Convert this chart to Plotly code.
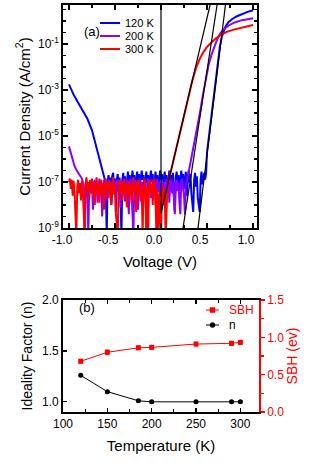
import numpy as np
import plotly.graph_objects as go

# ---------------- Panel (a): J-V curves (log10 of current density, A/cm^2) ----------------
STEP = 0.01  # voltage step of the sweep (V)

# 120 K (blue)
blue_rev_v = [-1.00, -0.95, -0.90, -0.85, -0.80, -0.75, -0.72, -0.69, -0.66, -0.64, -0.62]
blue_rev_logj = [-2.75, -3.2, -3.55, -3.9, -4.25, -4.75, -5.2, -5.65, -6.05, -6.4, -6.7]
blue_noise_v0 = -0.61
blue_noise_logj = [
    -6.9, -7.1, -9.3, -6.95, -6.7, -7.3, -6.8, -7.9, -6.75, -6.6,
    -7.2, -6.85, -8.3, -6.9, -6.65, -7.4, -6.8, -7.7, -9.3, -6.9,
    -6.6, -7.1, -6.75, -7.8, -6.85, -6.55, -7.0, -6.7, -7.3, -6.8,
    -6.5, -6.95, -6.7, -7.4, -6.75, -6.55, -7.0, -6.65, -7.2, -6.8,
    -6.5, -6.9, -6.7, -7.5, -6.75, -6.55, -7.05, -6.7, -7.3, -6.8,
    -6.5, -7.0, -6.65, -7.6, -6.8, -6.55, -7.1, -6.7, -7.4, -6.75,
    -6.5, -6.9, -6.65, -7.3, -6.8, -6.55, -7.0, -6.7, -7.5, -6.75,
    -6.5, -6.95, -6.7, -7.2, -6.6, -7.6, -8.3, -6.8, -6.55, -7.0,
    -6.7, -7.4, -6.75, -6.5, -6.9, -6.65, -7.3, -6.8, -6.55, -7.6,
    -6.7, -6.5, -7.0, -6.65, -7.5, -7.9, -8.3, -6.9, -6.6, -7.2,
    -6.75, -7.7, -8.0, -8.3, -6.9, -6.55, -7.1, -6.7, -6.6, -6.9,
    -6.6,
]
blue_fwd_v = [0.50, 0.52, 0.54, 0.56, 0.58, 0.60, 0.62, 0.64, 0.66, 0.68, 0.70, 0.73, 0.77, 0.82, 0.88, 0.94, 1.00]
blue_fwd_logj = [-5.7, -5.02, -4.35, -3.67, -3.0, -2.33, -1.65, -1.1, -0.7, -0.42, -0.24, -0.06, 0.08, 0.2, 0.31, 0.4, 0.47]

# 200 K (violet)
purple_rev_v = [-1.00, -0.98, -0.96, -0.94, -0.92, -0.90, -0.88, -0.86]
purple_rev_logj = [-5.45, -5.75, -6.1, -6.3, -6.47, -6.6, -6.72, -6.85]
purple_noise_v0 = -0.85
purple_noise_logj = [
    -7.0, -7.3, -9.3, -7.1, -6.9, -7.6, -9.3, -7.2, -6.95, -7.5,
    -7.1, -8.2, -7.05, -6.9, -7.4, -7.0, -7.9, -7.15, -6.85, -7.35,
    -7.0, -8.5, -7.2, -6.9, -7.45, -7.05, -7.8, -7.1, -6.9, -7.5,
    -7.0, -8.0, -7.15, -6.85, -7.4, -7.05, -7.7, -7.0, -6.9, -7.3,
    -7.05, -8.1, -7.2, -6.95, -7.5, -7.0, -7.85, -7.1, -6.9, -7.4,
    -8.4, -7.05, -6.85, -7.5, -8.6, -9.3, -7.1, -6.9, -7.45, -7.0,
    -8.2, -7.1, -6.85, -7.35, -7.0, -7.9, -7.05, -6.9, -7.5, -8.3,
    -7.1, -6.85, -7.4, -7.0, -7.7, -7.05, -6.9, -7.35, -7.0, -8.0,
    -7.1, -6.85, -7.45, -7.0, -7.6, -7.05, -6.9, -7.3, -7.0, -7.8,
    -7.1, -6.85, -7.4, -7.0, -7.9, -7.05, -6.9, -7.5, -7.0, -7.8,
    -8.4, -7.1, -6.9, -7.4, -7.05, -7.9, -8.4, -7.0, -6.85, -7.3,
    -7.6, -8.4, -7.1,
]
purple_fwd_v = [0.28, 0.30, 0.32, 0.35, 0.38, 0.42, 0.46, 0.49, 0.52, 0.55, 0.58, 0.61, 0.64, 0.68, 0.74, 0.80, 0.88, 1.00]
purple_fwd_logj = [-7.0, -6.6, -6.15, -5.55, -4.9, -4.05, -3.1, -2.4, -1.85, -1.45, -1.1, -0.8, -0.55, -0.36, -0.18, -0.06, 0.04, 0.12]

# 300 K (red)
red_noise_v0 = -1.00
red_noise_logj = [
    -7.0, -6.85, -7.3, -6.9, -7.6, -6.95, -7.4, -8.1, -9.3, -7.2,
    -6.9, -7.5, -7.05, -7.8, -6.95, -7.35, -8.3, -9.3, -7.1, -6.8,
    -7.4, -7.0, -7.7, -6.9, -7.25, -6.85, -7.6, -7.1, -8.0, -7.0,
    -6.8, -7.45, -7.0, -7.9, -7.15, -6.9, -7.5, -7.05, -8.2, -7.1,
    -6.85, -7.35, -7.0, -7.7, -6.95, -7.3, -8.0, -7.1, -6.8, -7.55,
    -7.05, -8.4, -9.3, -9.3, -7.2, -6.9, -7.45, -7.0, -7.8, -7.1,
    -6.85, -7.5, -7.05, -8.1, -7.2, -6.95, -7.6, -7.1, -7.9, -7.0,
    -6.8, -7.4, -7.05, -8.3, -7.15, -6.9, -7.5, -7.0, -7.85, -7.3,
    -9.3, -7.1, -6.85, -7.6, -9.3, -7.2, -9.3, -7.0, -6.9, -7.5,
    -7.1, -8.0, -7.0, -6.85, -7.7, -9.3, -7.3, -9.3, -7.5, -8.2,
    -9.3, -7.6, -7.2, -8.0, -7.4, -9.3,
]
red_fwd_v = [0.07, 0.10, 0.15, 0.20, 0.25, 0.30, 0.34, 0.38, 0.42, 0.46, 0.50, 0.55, 0.60, 0.66, 0.72, 0.80, 0.90, 1.00]
red_fwd_logj = [-7.2, -6.65, -5.8, -4.95, -4.1, -3.25, -2.6, -2.05, -1.65, -1.35, -1.12, -0.92, -0.74, -0.58, -0.46, -0.36, -0.27, -0.17]

# straight-line fits (black) and V = 0 marker line
fit_lines = {
    "fit300": ([0.0, 0.533], [-8.35, 0.7]),
    "fit200": ([0.239, 0.609], [-9.0, 0.7]),
    "fit120": ([0.402, 0.700], [-9.0, 0.7]),
    "zero": ([0.0, 0.0], [-8.35, 0.7]),
}

series_a = ["120 K", "200 K", "300 K"]

# ---------------- Panel (b): ideality factor and SBH vs temperature ----------------
temperature = [120, 150, 185, 200, 250, 290, 300]
ideality_n = [1.26, 1.10, 1.01, 1.00, 1.00, 1.00, 1.00]
ideality_err = [0.012, 0.01, 0.01, 0.01, 0.01, 0.01, 0.01]
sbh_ev = [0.68, 0.80, 0.86, 0.866, 0.91, 0.92, 0.933]
sbh_err = [0.025, 0.03, 0.025, 0.025, 0.025, 0.025, 0.025]
series_b = ["SBH", "n"]

xlabels_a = ["-1.0", "-0.5", "0.0", "0.5", "1.0"]
xticks_a = [-1.0, -0.5, 0.0, 0.5, 1.0]
ylabel_exp_a = [-9, -7, -5, -3, -1]

# ---------------- layout geometry (pixels) ----------------
W, H = 317, 467
ML, MR, MT, MB = 63, 58, 5, 55
PW, PH = W - ML - MR, H - MT - MB


def px(x):
    return (x - ML) / PW


def py(y):
    return (H - MB - y) / PH


def build(rev_v, rev_logj, v0, noise_logj, fwd_v, fwd_logj):
    noise_v = np.round(v0 + STEP * np.arange(len(noise_logj)), 2)
    v = np.concatenate([np.array(rev_v, float), noise_v, np.array(fwd_v, float)])
    lj = np.concatenate([np.array(rev_logj, float), np.array(noise_logj, float), np.array(fwd_logj, float)])
    return v, 10.0 ** lj


bv, bj = build(blue_rev_v, blue_rev_logj, blue_noise_v0, blue_noise_logj, blue_fwd_v, blue_fwd_logj)
pv, pj = build(purple_rev_v, purple_rev_logj, purple_noise_v0, purple_noise_logj, purple_fwd_v, purple_fwd_logj)
rv, rj = build([], [], red_noise_v0, red_noise_logj, red_fwd_v, red_fwd_logj)

FONT = "Liberation Sans, Arial, sans-serif"
BLUE, VIOLET, RED = "#0000FF", "#8B00FF", "#FF0000"
colors_a = [BLUE, VIOLET, RED]

fig = go.Figure()
for name, v, j, c in zip(series_a, [bv, pv, rv], [bj, pj, rj], colors_a):
    fig.add_trace(go.Scatter(x=v, y=j, mode="lines", name=name, line=dict(color=c, width=2),
                             xaxis="x", yaxis="y", showlegend=False))
for key, (fv, flj) in fit_lines.items():
    fig.add_trace(go.Scatter(x=fv, y=[10.0 ** e for e in flj], mode="lines", showlegend=False,
                             line=dict(color="black", width=1.2), xaxis="x", yaxis="y"))

fig.add_trace(go.Scatter(x=temperature, y=sbh_ev, mode="lines+markers", name=series_b[0],
                         line=dict(color=RED, width=1), marker=dict(symbol="square", size=5, color=RED),
                         error_y=dict(type="data", array=sbh_err, color=RED, thickness=0.8, width=2),
                         xaxis="x2", yaxis="y3", showlegend=False))
fig.add_trace(go.Scatter(x=temperature, y=ideality_n, mode="lines+markers", name=series_b[1],
                         line=dict(color="black", width=1), marker=dict(symbol="circle", size=5, color="black"),
                         error_y=dict(type="data", array=ideality_err, color="black", thickness=0.8, width=2),
                         xaxis="x2", yaxis="y2", showlegend=False))

# ---------------- legends drawn as shapes + text ----------------
shapes, annotations = [], []
leg_rows_a = [23, 36, 49]
for name, c, yy in zip(series_a, colors_a, leg_rows_a):
    shapes.append(dict(type="line", xref="paper", yref="paper", x0=px(100), x1=px(120), y0=py(yy), y1=py(yy),
                       line=dict(color=c, width=2)))
    annotations.append(dict(text=name, x=px(123), y=py(yy), xref="paper", yref="paper", xanchor="left",
                            yanchor="middle", showarrow=False, height=12,
                            font=dict(size=11, family=FONT, color="black")))

leg_rows_b = [310, 325]
leg_cols_b = [RED, "black"]
for i, (name, c, yy) in enumerate(zip(series_b, leg_cols_b, leg_rows_b)):
    shapes.append(dict(type="line", xref="paper", yref="paper", x0=px(206), x1=px(219), y0=py(yy), y1=py(yy),
                       line=dict(color=c, width=1)))
    shapes.append(dict(type="rect" if i == 0 else "circle", xref="paper", yref="paper",
                       x0=px(210), x1=px(215), y0=py(yy + 2.5), y1=py(yy - 2.5),
                       fillcolor=c, line=dict(color=c, width=0.5)))
    annotations.append(dict(text=name, x=px(227), y=py(yy), xref="paper", yref="paper", xanchor="left",
                            yanchor="middle", showarrow=False, height=12,
                            font=dict(size=12, family=FONT, color=c)))

annotations.append(dict(text="(a)", x=px(82), y=py(22), xref="paper", yref="paper", showarrow=False,
                        font=dict(size=13, family=FONT)))
annotations.append(dict(text="(b)", x=px(77), y=py(317), xref="paper", yref="paper", showarrow=False,
                        font=dict(size=13, family=FONT)))

axis_common = dict(showline=True, linecolor="black", linewidth=1.8, showgrid=False, zeroline=False,
                   tickcolor="black", tickwidth=1.3, automargin=False,
                   tickfont=dict(size=12, color="black", family=FONT))

minor_log = [10.0 ** e for e in [-8.5, -8, -7.5, -6.5, -6, -5.5, -4.5, -4, -3.5, -2.5, -2, -1.5, -0.5, 0, 0.5]]

fig.update_layout(
    width=W, height=H,
    margin=dict(l=ML, r=MR, t=MT, b=MB),
    paper_bgcolor="white", plot_bgcolor="white",
    font=dict(family=FONT, color="black", size=12),
    showlegend=False,
    hovermode=False,
    xaxis=dict(axis_common, domain=[0, px(257)], anchor="y", range=[-1.065, 1.043],
               tickmode="array", tickvals=xticks_a, ticktext=xlabels_a, ticks="inside", ticklen=5,
               minor=dict(tickmode="array", tickvals=[-0.75, -0.25, 0.25, 0.75], ticks="inside", ticklen=3,
                          tickcolor="black", tickwidth=1.2),
               mirror="ticks", ticklabelshift=-7,
               title=dict(text="Voltage (V)", font=dict(size=15), standoff=10)),
    yaxis=dict(axis_common, domain=[py(228), 1.0], anchor="x", type="log", range=[-9, 0.7],
               tickmode="array", tickvals=[10.0 ** e for e in ylabel_exp_a],
               ticktext=["10<sup>%d</sup>" % e for e in ylabel_exp_a], ticks="inside", ticklen=5,
               minor=dict(tickmode="array", tickvals=minor_log, ticks="inside", ticklen=3,
                          tickcolor="black", tickwidth=1.2),
               mirror="ticks",
               title=dict(text="Current Density (A/cm<sup>2</sup>)", font=dict(size=15), standoff=4)),
    xaxis2=dict(axis_common, domain=[0, 1.0], anchor="y2", range=[100, 321],
                tickmode="array", tickvals=[100, 150, 200, 250, 300], ticks="inside", ticklen=4,
                minor=dict(tickmode="array", tickvals=[125, 175, 225, 275], ticks="inside", ticklen=3,
                           tickcolor="black", tickwidth=1.2),
                mirror="ticks",
                title=dict(text="Temperature (K)", font=dict(size=15), standoff=10)),
    yaxis2=dict(axis_common, domain=[0, py(300)], anchor="x2", range=[0.9, 2.0],
                tickmode="array", tickvals=[1.0, 1.5, 2.0], ticktext=["1.0", "1.5", "2.0"],
                ticks="inside", ticklen=4,
                title=dict(text="Ideality Factor (n)", font=dict(size=14), standoff=6)),
    yaxis3=dict(showline=True, linecolor=RED, linewidth=1.8, showgrid=False, zeroline=False, automargin=False,
                overlaying="y2", side="right", anchor="x2", range=[0, 1.5],
                tickmode="array", tickvals=[0, 0.5, 1.0, 1.5], ticktext=["0.0", "0.5", "1.0", "1.5"],
                ticks="outside", ticklen=4, tickcolor=RED, tickwidth=1.3,
                minor=dict(tickmode="array", tickvals=[0.25, 0.75, 1.25], ticks="outside", ticklen=3,
                           tickcolor=RED, tickwidth=1.2),
                tickfont=dict(size=12, color=RED, family=FONT),
                title=dict(text="SBH (ev)", font=dict(size=14, color=RED), standoff=4)),
    shapes=shapes,
    annotations=annotations,
)

fig.write_html("out.html", config={"displayModeBar": False, "staticPlot": True},
               post_script="document.body.style.margin='0px';document.body.style.padding='0px';")
